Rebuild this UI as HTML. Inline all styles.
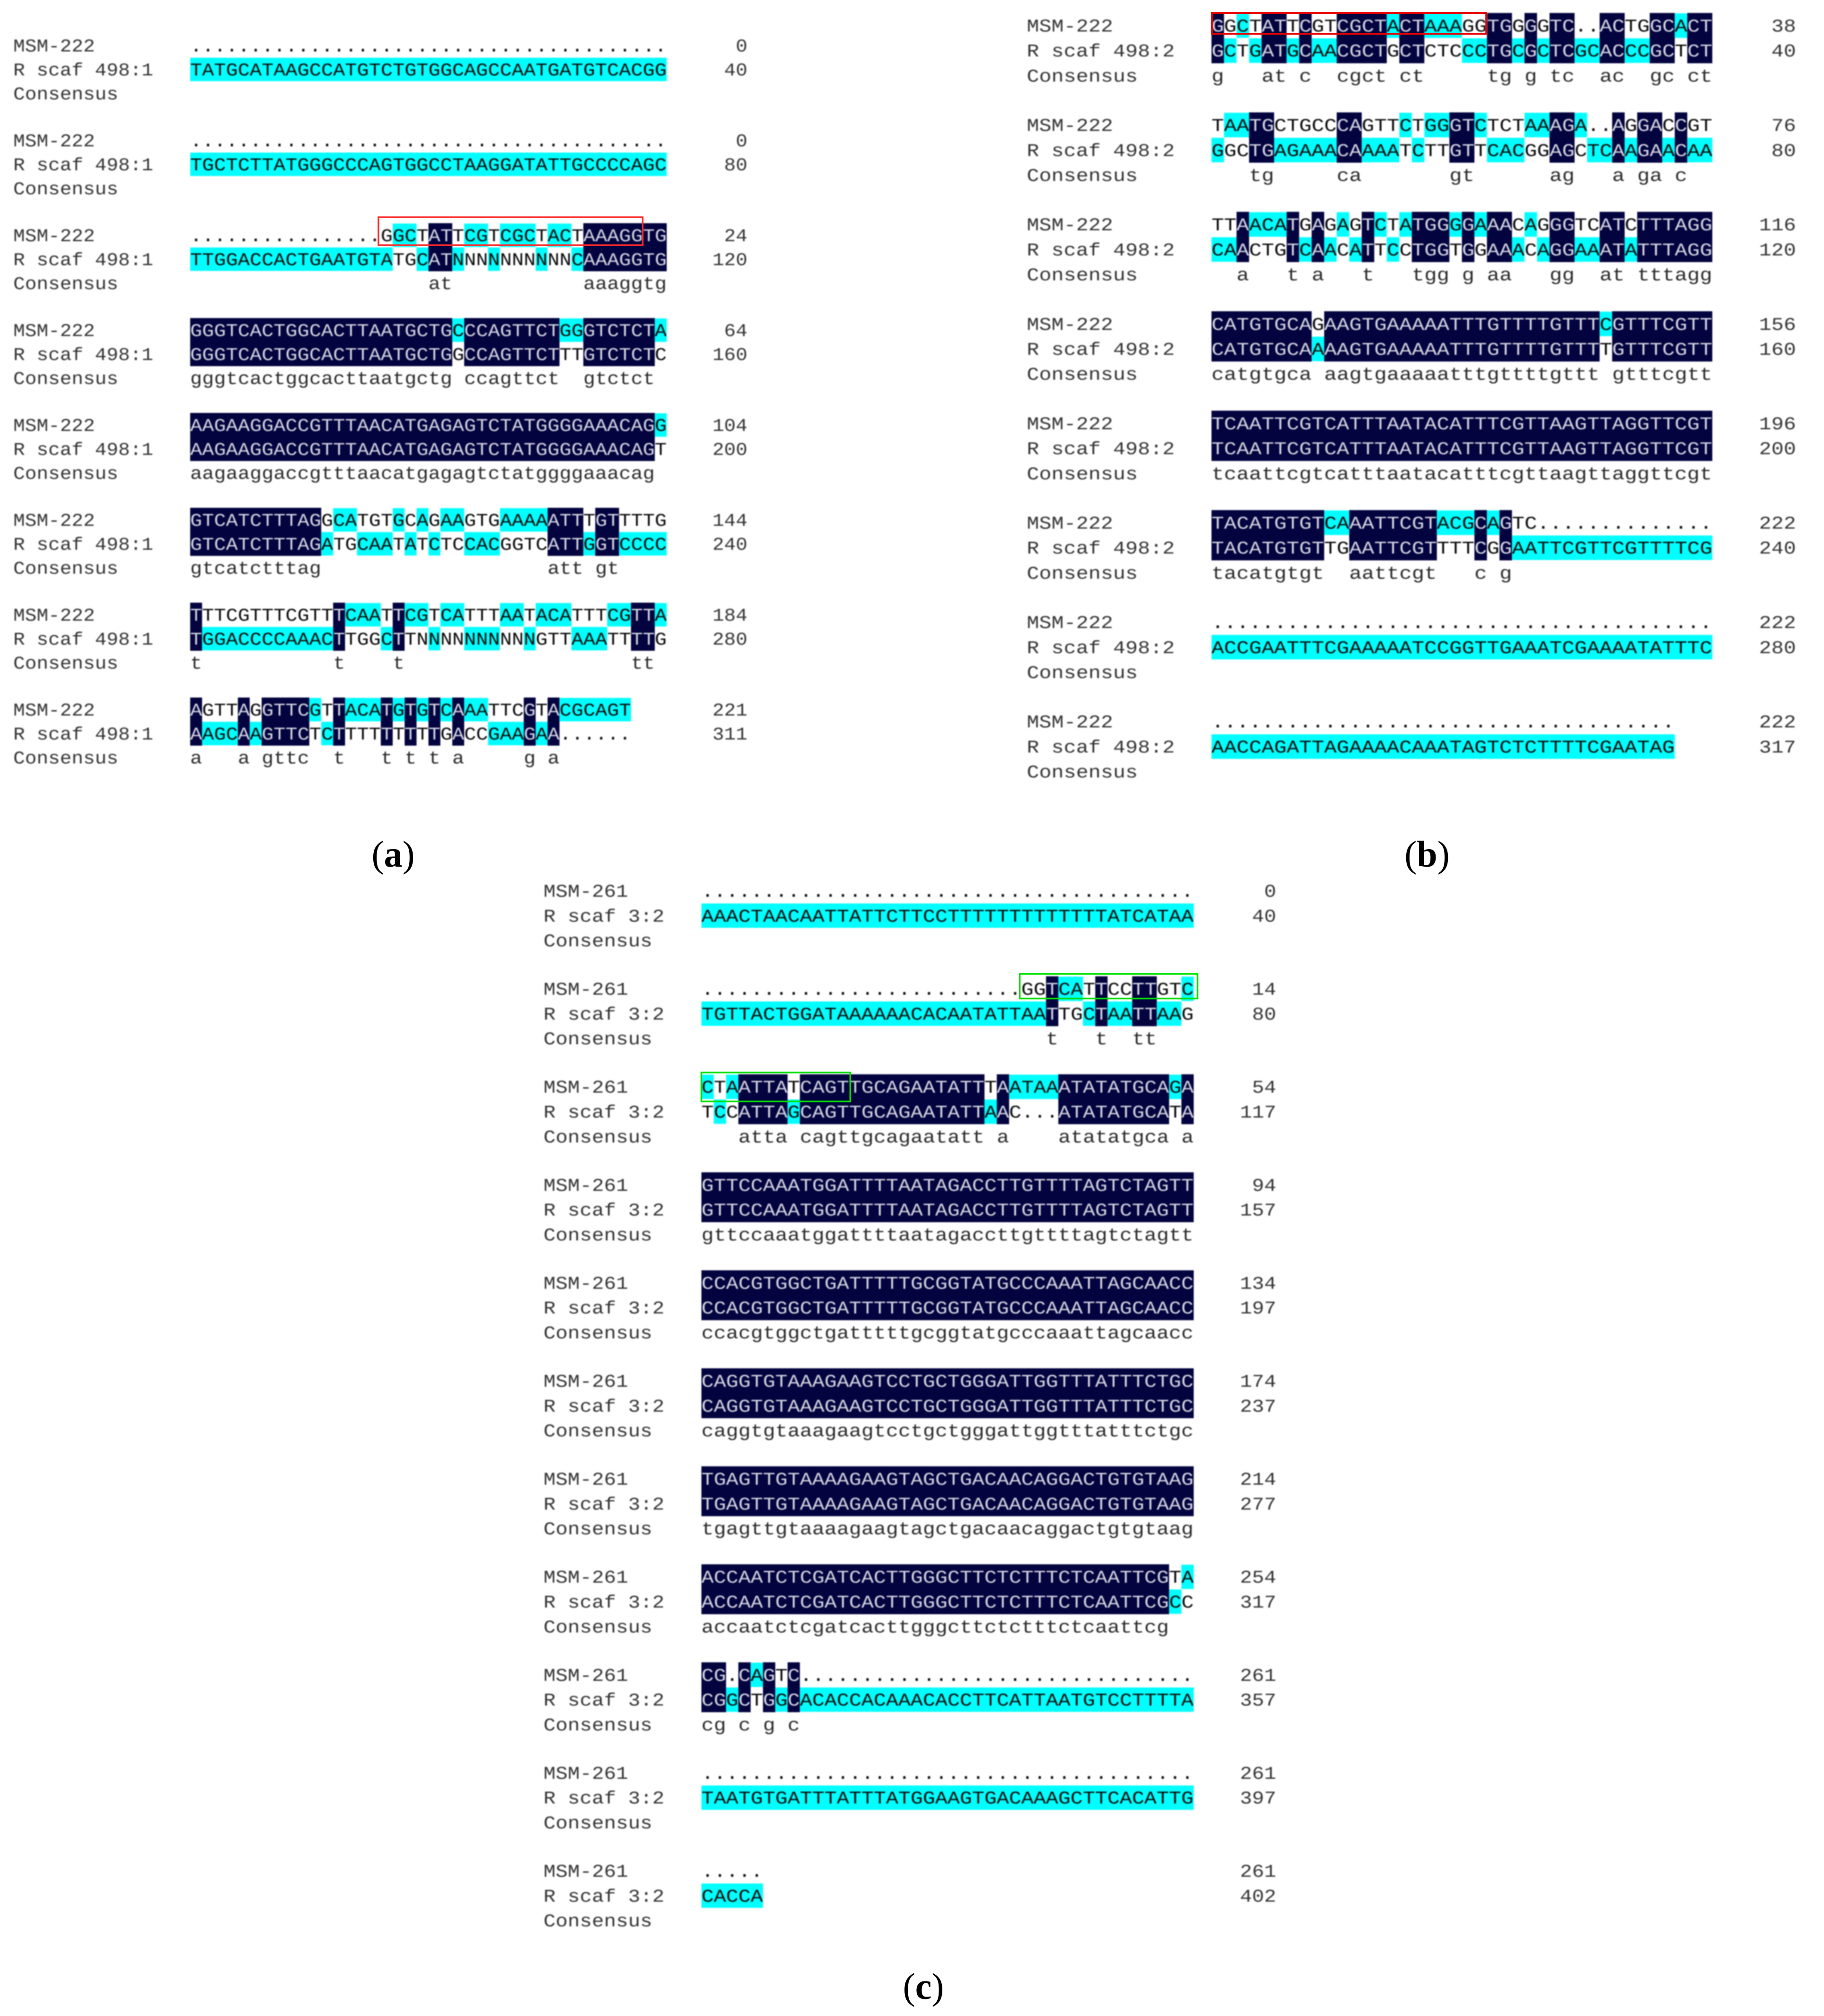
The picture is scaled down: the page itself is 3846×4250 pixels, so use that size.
<!DOCTYPE html>
<html lang="en">
<head>
<meta charset="utf-8">
<title>Sequence alignments of MSM-222 and MSM-261</title>
<style>
  html, body { margin: 0; padding: 0; background: #fff; }
  #figure { display: block; width: 3846px; height: 4250px; background: #fff; }
  #figure .seq, #figure .lab { font-family: "Liberation Mono", monospace; font-size: 38px; }
  #alignments { filter: blur(1.2px); }
  .caption { font-family: "Liberation Serif", serif; font-size: 78px; fill: #000; }
  .caption .b { font-weight: bold; }
</style>
</head>
<body>
<svg id="figure" xmlns="http://www.w3.org/2000/svg" width="3846" height="4250" viewBox="0 0 3846 4250">
  <g id="alignments"></g>
  <rect x="798" y="458" width="557" height="59" fill="none" stroke="#ff2a2a" stroke-width="3.5"/>
  <rect x="2555" y="27" width="579" height="44" fill="none" stroke="#e60000" stroke-width="4"/>
  <rect x="2150" y="2053" width="375" height="52" fill="none" stroke="#00e000" stroke-width="3.5"/>
  <rect x="1479" y="2261" width="314" height="61" fill="none" stroke="#00e000" stroke-width="3.5"/>
  <text class="caption" x="829" y="1827" text-anchor="middle">(<tspan class="b">a</tspan>)</text>
  <text class="caption" x="3009" y="1827" text-anchor="middle">(<tspan class="b">b</tspan>)</text>
  <text class="caption" x="1947" y="4214" text-anchor="middle">(<tspan class="b">c</tspan>)</text>
</svg>
<script>
/* ---------- panel (a) ---------- */
const aTopName = "MSM-222";
const aBottomName = "R scaf 498:1";
const aTop = [
  "........................................",
  "........................................",
  "................GGCTATTCGTCGCTACTAAAGGTG",
  "GGGTCACTGGCACTTAATGCTGCCCAGTTCTGGGTCTCTA",
  "AAGAAGGACCGTTTAACATGAGAGTCTATGGGGAAACAGG",
  "GTCATCTTTAGGCATGTGCAGAAGTGAAAAATTTGTTTTG",
  "TTTCGTTTCGTTTCAATTCGTCATTTAATACATTTCGTTA",
  "AGTTAGGTTCGTTACATGTGTCAAATTCGTACGCAGT"
];
const aBottom = [
  "TATGCATAAGCCATGTCTGTGGCAGCCAATGATGTCACGG",
  "TGCTCTTATGGGCCCAGTGGCCTAAGGATATTGCCCCAGC",
  "TTGGACCACTGAATGTATGCATNNNNNNNNNNCAAAGGTG",
  "GGGTCACTGGCACTTAATGCTGGCCAGTTCTTTGTCTCTC",
  "AAGAAGGACCGTTTAACATGAGAGTCTATGGGGAAACAGT",
  "GTCATCTTTAGATGCAATATCTCCACGGTCATTGGTCCCC",
  "TGGACCCCAAACTTGGCTTNNNNNNNNNNGTTAAATTTTG",
  "AAGCAAGTTCTCTTTTTTTTTGACCGAAGAA......"
];
const aConsensus = [
  "",
  "",
  "20:at 33:aaaggtg",
  "0:gggtcactggcacttaatgctg 23:ccagttct 33:gtctct",
  "0:aagaaggaccgtttaacatgagagtctatggggaaacag",
  "0:gtcatctttag 30:att 34:gt",
  "0:t 12:t 17:t 37:tt",
  "0:a 4:a 6:gttc 12:t 16:t 18:t 20:t 22:a 28:g 30:a"
];
const aTopCyan = ["", "", "17-18 23-24 26-28 30-31", "22 31-32 39", "39",
  "12-13 17 19 21-22 26-29", "13-15 18-19 21-22 26-27 29-31 35-36 39", "10 13-15 17 19 21 23-24 31-36"];
const aBottomCyan = ["0-39", "0-39", "0-16 19 22 25 29 32", "", "",
  "11 14-16 18 20 23-25 33 36-39", "1-11 16 20 23-25 28 32-34", "1-3 5 11 25-27 29"];
const aTopCounts = [0, 0, 24, 64, 104, 144, 184, 221];
const aBottomCounts = [40, 80, 120, 160, 200, 240, 280, 311];

/* ---------- panel (b) ---------- */
const bTopName = "MSM-222";
const bBottomName = "R scaf 498:2";
const bTop = [
  "GGCTATTCGTCGCTACTAAAGGTGGGGTC..ACTGGCACT",
  "TAATGCTGCCCAGTTCTGGGTCTCTAAAGA..AGGACCGT",
  "TTAACATGAGAGTCTATGGGGAAACAGGGTCATCTTTAGG",
  "CATGTGCAGAAGTGAAAAATTTGTTTTGTTTCGTTTCGTT",
  "TCAATTCGTCATTTAATACATTTCGTTAAGTTAGGTTCGT",
  "TACATGTGTCAAATTCGTACGCAGTC..............",
  "........................................",
  "....................................."
];
const bBottom = [
  "GCTGATGCAACGCTGCTCTCCCTGCGCTCGCACCCGCTCT",
  "GGCTGAGAAACAAAATCTTGTTCACGGAGCTCAAGAACAA",
  "CAACTGTCAACATTCCTGGTGGAAACAGGAAATATTTAGG",
  "CATGTGCAAAAGTGAAAAATTTGTTTTGTTTTGTTTCGTT",
  "TCAATTCGTCATTTAATACATTTCGTTAAGTTAGGTTCGT",
  "TACATGTGTTGAATTCGTTTTCGGAATTCGTTCGTTTTCG",
  "ACCGAATTTCGAAAAATCCGGTTGAAATCGAAAATATTTC",
  "AACCAGATTAGAAAACAAATAGTCTCTTTTCGAATAG"
];
const bConsensus = [
  "0:g 4:at 7:c 10:cgct 15:ct 22:tg 25:g 27:tc 31:ac 35:gc 38:ct",
  "3:tg 10:ca 19:gt 27:ag 32:a 34:ga 37:c",
  "2:a 6:t 8:a 12:t 16:tgg 20:g 22:aa 27:gg 31:at 34:tttagg",
  "0:catgtgca 9:aagtgaaaaatttgttttgttt 32:gtttcgtt",
  "0:tcaattcgtcatttaatacatttcgttaagttaggttcgt",
  "0:tacatgtgt 11:aattcgt 21:c 23:g",
  "",
  ""
];
const bTopCyan = ["2 14 17-19 37", "1-2 15 17-18 21 25-26 29", "3-5 10 13 15 19 21 25", "31", "", "9-10 18-20 22", "", ""];
const bBottomCyan = ["1 3 6 8-9 20-21 24 26 29-30 33-34", "0 5-9 12-14 16 22-24 30-31 33 36 38-39",
  "0-1 7 9 11 14 24 26 29-30 33", "8", "", "24-39", "0-39", "0-36"];
const bTopCounts = [38, 76, 116, 156, 196, 222, 222, 222];
const bBottomCounts = [40, 80, 120, 160, 200, 240, 280, 317];

/* ---------- panel (c) ---------- */
const cTopName = "MSM-261";
const cBottomName = "R scaf 3:2";
const cTop = [
  "........................................",
  "..........................GGTCATTCCTTGTC",
  "CTAATTATCAGTTGCAGAATATTTAATAAATATATGCAGA",
  "GTTCCAAATGGATTTTAATAGACCTTGTTTTAGTCTAGTT",
  "CCACGTGGCTGATTTTTGCGGTATGCCCAAATTAGCAACC",
  "CAGGTGTAAAGAAGTCCTGCTGGGATTGGTTTATTTCTGC",
  "TGAGTTGTAAAAGAAGTAGCTGACAACAGGACTGTGTAAG",
  "ACCAATCTCGATCACTTGGGCTTCTCTTTCTCAATTCGTA",
  "CG.CAGTC................................",
  "........................................",
  "....."
];
const cBottom = [
  "AAACTAACAATTATTCTTCCTTTTTTTTTTTTTATCATAA",
  "TGTTACTGGATAAAAAACACAATATTAATTGCTAATTAAG",
  "TCCATTAGCAGTTGCAGAATATTAAC...ATATATGCATA",
  "GTTCCAAATGGATTTTAATAGACCTTGTTTTAGTCTAGTT",
  "CCACGTGGCTGATTTTTGCGGTATGCCCAAATTAGCAACC",
  "CAGGTGTAAAGAAGTCCTGCTGGGATTGGTTTATTTCTGC",
  "TGAGTTGTAAAAGAAGTAGCTGACAACAGGACTGTGTAAG",
  "ACCAATCTCGATCACTTGGGCTTCTCTTTCTCAATTCGCC",
  "CGGCTGGCACACCACAAACACCTTCATTAATGTCCTTTTA",
  "TAATGTGATTTATTTATGGAAGTGACAAAGCTTCACATTG",
  "CACCA"
];
const cConsensus = [
  "",
  "28:t 32:t 35:tt",
  "3:atta 8:cagttgcagaatatt 24:a 29:atatatgca 39:a",
  "0:gttccaaatggattttaatagaccttgttttagtctagtt",
  "0:ccacgtggctgatttttgcggtatgcccaaattagcaacc",
  "0:caggtgtaaagaagtcctgctgggattggtttatttctgc",
  "0:tgagttgtaaaagaagtagctgacaacaggactgtgtaag",
  "0:accaatctcgatcacttgggcttctctttctcaattcg",
  "0:cg 3:c 5:g 7:c",
  "",
  ""
];
const cTopCyan = ["", "29-30 39", "0 2 25-28 38", "", "", "", "", "39", "4", "", ""];
const cBottomCyan = ["0-39", "0-27 31 33-34 37-38", "1 7 23", "", "", "", "", "38", "2 6 8-39", "0-39", "0-4"];
const cTopCounts = [0, 14, 54, 94, 134, 174, 214, 254, 261, 261, 261];
const cBottomCounts = [40, 80, 117, 157, 197, 237, 277, 317, 357, 397, 402];
const consensusName = "Consensus";

/* ---------- drawing ---------- */
const SVG_NS = "http://www.w3.org/2000/svg";
const root = document.getElementById("alignments");
const FONT_SIZE = 38;
const ADVANCE = FONT_SIZE * 0.6001;
const CYAN = "#00ffff";
const NAVY = "#03033f";

function parseCyan(spec) {
  const cols = new Set();
  spec.split(" ").filter(Boolean).forEach(function (part) {
    const ends = part.split("-").map(Number);
    const last = ends.length > 1 ? ends[1] : ends[0];
    for (let c = ends[0]; c <= last; c++) cols.add(c);
  });
  return cols;
}

function parseConsensus(spec) {
  return spec.split(" ").filter(Boolean).map(function (part) {
    const bits = part.split(":");
    return { start: Number(bits[0]), word: bits[1] };
  });
}

function addText(parent, str, x, y, sx, fill, anchor, cls, name) {
  const el = document.createElementNS(SVG_NS, "text");
  el.setAttribute("class", cls);
  el.setAttribute("transform", "translate(" + x + " " + y + ") scale(" + sx + " 1)");
  el.setAttribute("fill", fill);
  if (anchor) el.setAttribute("text-anchor", anchor);
  
  
  el.textContent = str;
  parent.appendChild(el);
}

function addRect(parent, x, y, w, h, fill, name) {
  const el = document.createElementNS(SVG_NS, "rect");
  el.setAttribute("x", x);
  el.setAttribute("y", y);
  el.setAttribute("width", w);
  el.setAttribute("height", h);
  el.setAttribute("fill", fill);
  
  
  parent.appendChild(el);
}

function drawRow(g, seq, darkCols, cyanCols, geo, cy) {
  const sx = geo.cell / ADVANCE;
  const baseline = cy + 12.5;
  const kinds = [];
  for (let i = 0; i < seq.length; i++) {
    kinds.push(darkCols.has(i) ? "dark" : (cyanCols.has(i) ? "cyan" : "none"));
  }
  let start = 0;
  const runs = [];
  for (let i = 1; i <= seq.length; i++) {
    if (i === seq.length || kinds[i] !== kinds[start]) {
      runs.push({ start: start, end: i, kind: kinds[start] });
      start = i;
    }
  }
  runs.forEach(function (r) {
    const x = geo.seqX + r.start * geo.cell;
    const w = (r.end - r.start) * geo.cell;
    if (r.kind === "dark") addRect(g, x, cy - geo.rowStep / 2 - 0.3, w, geo.rowStep + 0.6, NAVY, "identical-residue-run");
    if (r.kind === "cyan") addRect(g, x, cy - geo.rowStep / 2 + 0.5, w, geo.rowStep - 1, CYAN, "similar-residue-run");
  });
  runs.forEach(function (r) {
    const x = geo.seqX + r.start * geo.cell;
    const fill = r.kind === "dark" ? "#d6d6e2" : "#0a0a0a";
    addText(g, seq.slice(r.start, r.end), x, baseline, sx, fill, null, "seq", "sequence-residues");
  });
}

function drawPanel(geo, topName, bottomName, top, bottom, consensus, topCyan, bottomCyan, topCounts, bottomCounts, panelName) {
  const panel = document.createElementNS(SVG_NS, "g");
  
  
  root.appendChild(panel);
  const labSx = geo.labelAdvance / ADVANCE;
  top.forEach(function (seq, b) {
    const g = document.createElementNS(SVG_NS, "g");
    
    
    panel.appendChild(g);
    const y0 = geo.y0 + b * geo.blockStep;
    const y1 = y0 + geo.rowStep;
    const y2 = y1 + geo.rowStep;
    const words = parseConsensus(consensus[b]);
    const dark = new Set();
    words.forEach(function (w) {
      for (let i = 0; i < w.word.length; i++) dark.add(w.start + i);
    });
    drawRow(g, seq, dark, parseCyan(topCyan[b]), geo, y0);
    drawRow(g, bottom[b], dark, parseCyan(bottomCyan[b]), geo, y1);
    words.forEach(function (w) {
      addText(g, w.word, geo.seqX + w.start * geo.cell, y2 + 12.5, geo.cell / ADVANCE, "#2a2a2a", null, "seq", "consensus-residues");
    });
    addText(g, topName, geo.labelX, y0 + 12.5, labSx, "#333", null, "lab", "query-sequence-name");
    addText(g, bottomName, geo.labelX, y1 + 12.5, labSx, "#333", null, "lab", "subject-sequence-name");
    addText(g, consensusName, geo.labelX, y2 + 12.5, labSx, "#333", null, "lab", "consensus-label");
    addText(g, String(topCounts[b]), geo.numRight, y0 + 12.5, labSx, "#333", "end", "lab", "query-position-count");
    addText(g, String(bottomCounts[b]), geo.numRight, y1 + 12.5, labSx, "#333", "end", "lab", "subject-position-count");
  });
}

drawPanel({ seqX: 401, cell: 25.12, labelX: 28, labelAdvance: 24.6, numRight: 1576, y0: 96, blockStep: 200, rowStep: 50.4 },
  aTopName, aBottomName, aTop, aBottom, aConsensus, aTopCyan, aBottomCyan, aTopCounts, aBottomCounts, "panel-a");
drawPanel({ seqX: 2554.5, cell: 26.4, labelX: 2165, labelAdvance: 26, numRight: 3787, y0: 54, blockStep: 209.6, rowStep: 52.7 },
  bTopName, bBottomName, bTop, bBottom, bConsensus, bTopCyan, bBottomCyan, bTopCounts, bBottomCounts, "panel-b");
drawPanel({ seqX: 1479, cell: 25.95, labelX: 1146, labelAdvance: 25.5, numRight: 2691, y0: 1878, blockStep: 206.6, rowStep: 52.3 },
  cTopName, cBottomName, cTop, cBottom, cConsensus, cTopCyan, cBottomCyan, cTopCounts, cBottomCounts, "panel-c");
</script>
</body>
</html>
